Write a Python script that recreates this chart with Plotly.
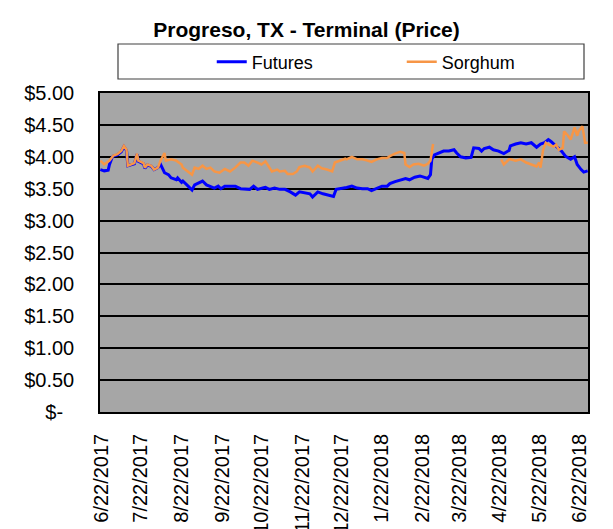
import plotly.graph_objects as go

# ---------------- data ----------------
futures_dates = [
    "2017-06-21", "2017-06-24", "2017-06-27", "2017-06-28", "2017-06-30", "2017-07-01", "2017-07-04",
    "2017-07-07", "2017-07-09", "2017-07-11", "2017-07-12", "2017-07-14", "2017-07-17", "2017-07-19",
    "2017-07-20", "2017-07-24", "2017-07-25", "2017-07-27", "2017-07-30", "2017-08-01", "2017-08-04",
    "2017-08-06", "2017-08-09", "2017-08-12", "2017-08-14", "2017-08-18", "2017-08-19", "2017-08-22",
    "2017-08-23", "2017-08-27", "2017-08-30", "2017-09-01", "2017-09-04", "2017-09-07", "2017-09-10",
    "2017-09-13", "2017-09-16", "2017-09-19", "2017-09-21", "2017-09-24", "2017-09-28", "2017-10-02",
    "2017-10-06", "2017-10-09", "2017-10-13", "2017-10-16", "2017-10-19", "2017-10-23", "2017-10-25",
    "2017-10-28", "2017-11-01", "2017-11-05", "2017-11-09", "2017-11-13", "2017-11-17", "2017-11-20",
    "2017-11-24", "2017-11-28", "2017-11-30", "2017-12-04", "2017-12-08", "2017-12-12", "2017-12-16",
    "2017-12-18", "2017-12-22", "2017-12-26", "2017-12-30", "2018-01-03", "2018-01-07", "2018-01-11",
    "2018-01-14", "2018-01-18", "2018-01-22", "2018-01-26", "2018-01-28", "2018-02-01", "2018-02-05",
    "2018-02-09", "2018-02-12", "2018-02-16", "2018-02-20", "2018-02-24", "2018-02-26", "2018-02-28",
    "2018-03-01", "2018-03-03", "2018-03-06", "2018-03-10", "2018-03-14", "2018-03-18", "2018-03-20",
    "2018-03-23", "2018-03-27", "2018-03-31", "2018-04-02", "2018-04-06", "2018-04-08", "2018-04-10",
    "2018-04-14", "2018-04-17", "2018-04-21", "2018-04-25", "2018-04-29", "2018-04-30", "2018-05-04",
    "2018-05-08", "2018-05-12", "2018-05-16", "2018-05-20", "2018-05-23", "2018-05-26", "2018-05-29",
    "2018-05-31", "2018-06-04", "2018-06-08", "2018-06-11", "2018-06-15", "2018-06-18", "2018-06-20",
    "2018-06-23", "2018-06-25", "2018-06-28",
]
futures_prices = [
    3.80, 3.78, 3.79, 3.88, 3.99, 4.01, 4.03,
    4.08, 4.16, 4.10, 3.86, 3.87, 3.89, 4.04,
    3.93, 3.89, 3.82, 3.87, 3.85, 3.80, 3.83,
    3.88, 3.75, 3.72, 3.67, 3.64, 3.67, 3.60,
    3.62, 3.54, 3.48, 3.56, 3.59, 3.62, 3.56,
    3.54, 3.51, 3.54, 3.50, 3.54, 3.54, 3.54,
    3.50, 3.50, 3.49, 3.54, 3.49, 3.51, 3.52,
    3.49, 3.51, 3.49, 3.49, 3.45, 3.40, 3.45,
    3.44, 3.42, 3.37, 3.45, 3.42, 3.40, 3.38,
    3.49, 3.50, 3.52, 3.54, 3.51, 3.50, 3.50,
    3.47, 3.50, 3.54, 3.54, 3.58, 3.61, 3.63,
    3.66, 3.64, 3.68, 3.70, 3.67, 3.66, 3.72,
    3.96, 4.03, 4.06, 4.09, 4.09, 4.11, 4.06,
    4.00, 3.98, 3.99, 4.14, 4.13, 4.09, 4.13,
    4.15, 4.11, 4.09, 4.05, 4.10, 4.17, 4.20,
    4.22, 4.20, 4.22, 4.15, 4.20, 4.22, 4.27,
    4.24, 4.17, 4.09, 4.01, 3.96, 4.00, 3.88,
    3.80, 3.76, 3.78,
]

sorghum_dates = [
    "2017-06-21", "2017-06-24", "2017-06-28", "2017-07-01", "2017-07-04", "2017-07-07", "2017-07-09",
    "2017-07-11", "2017-07-12", "2017-07-14", "2017-07-17", "2017-07-19", "2017-07-20", "2017-07-24",
    "2017-07-25", "2017-07-27", "2017-07-30", "2017-08-01", "2017-08-04", "2017-08-06", "2017-08-09",
    "2017-08-10", "2017-08-14", "2017-08-18", "2017-08-22", "2017-08-23", "2017-08-27", "2017-08-30",
    "2017-09-01", "2017-09-04", "2017-09-07", "2017-09-10", "2017-09-13", "2017-09-16", "2017-09-20",
    "2017-09-24", "2017-09-28", "2017-10-02", "2017-10-06", "2017-10-09", "2017-10-12", "2017-10-15",
    "2017-10-19", "2017-10-22", "2017-10-25", "2017-10-27", "2017-10-30", "2017-11-03", "2017-11-05",
    "2017-11-09", "2017-11-11", "2017-11-15", "2017-11-18", "2017-11-20", "2017-11-24", "2017-11-28",
    "2017-11-30", "2017-12-04", "2017-12-07", "2017-12-11", "2017-12-15", "2017-12-17", "2017-12-21",
    "2017-12-25", "2017-12-26", "2017-12-30", "2018-01-03", "2018-01-07", "2018-01-11", "2018-01-14",
    "2018-01-18", "2018-01-22", "2018-01-26", "2018-01-28", "2018-02-01", "2018-02-05", "2018-02-08",
    "2018-02-09", "2018-02-12", "2018-02-15", "2018-02-19", "2018-02-23", "2018-02-26", "2018-02-28",
    "2018-03-02", "2018-03-15", "2018-04-23", "2018-04-25", "2018-04-29", "2018-04-30", "2018-05-04",
    "2018-05-08", "2018-05-12", "2018-05-16", "2018-05-20", "2018-05-22", "2018-05-23", "2018-05-25",
    "2018-05-27", "2018-05-29", "2018-06-02", "2018-06-04", "2018-06-06", "2018-06-09", "2018-06-10",
    "2018-06-13", "2018-06-15", "2018-06-18", "2018-06-20", "2018-06-21", "2018-06-24", "2018-06-26",
    "2018-06-28",
]
sorghum_prices = [
    3.94, 3.88, 3.94, 4.02, 4.04, 4.09, 4.17,
    4.11, 3.86, 3.88, 3.90, 4.05, 3.94, 3.90,
    3.83, 3.88, 3.86, 3.80, 3.83, 3.94, 4.06,
    3.94, 3.96, 3.94, 3.88, 3.83, 3.77, 3.72,
    3.83, 3.81, 3.86, 3.81, 3.83, 3.77, 3.75,
    3.81, 3.77, 3.83, 3.91, 3.91, 3.86, 3.94,
    3.91, 3.88, 3.93, 3.86, 3.77, 3.80, 3.77,
    3.78, 3.73, 3.73, 3.77, 3.84, 3.86, 3.83,
    3.77, 3.86, 3.82, 3.80, 3.77, 3.91, 3.94,
    3.97, 3.96, 4.00, 3.96, 3.96, 3.94, 3.92,
    3.96, 3.98, 3.98, 4.01, 4.05, 4.08, 4.06,
    3.88, 3.84, 3.88, 3.89, 3.86, 3.89, 3.94,
    4.20, None, 3.96, 3.88, 3.96, 3.96, 3.94,
    3.96, 3.91, 3.88, 3.85, 3.91, 3.83, 4.11,
    4.22, 4.19, 4.16, 4.19, 4.11, 4.14, 4.40,
    4.33, 4.27, 4.46, 4.33, 4.40, 4.48, 4.22,
    4.22,
]

x_tick_dates = [
    "2017-06-22", "2017-07-22", "2017-08-22", "2017-09-22", "2017-10-22", "2017-11-22", "2017-12-22",
    "2018-01-22", "2018-02-22", "2018-03-22", "2018-04-22", "2018-05-22", "2018-06-22",
]
x_tick_labels = [
    "6/22/2017", "7/22/2017", "8/22/2017", "9/22/2017", "10/22/2017", "11/22/2017", "12/22/2017",
    "1/22/2018", "2/22/2018", "3/22/2018", "4/22/2018", "5/22/2018", "6/22/2018",
]
y_tick_values = [0, 0.5, 1.0, 1.5, 2.0, 2.5, 3.0, 3.5, 4.0, 4.5, 5.0]
y_tick_labels = ["$-\u00a0\u00a0", "$0.50", "$1.00", "$1.50", "$2.00", "$2.50",
                 "$3.00", "$3.50", "$4.00", "$4.50", "$5.00"]

FONT = "Arial, 'Liberation Sans', sans-serif"

fig = go.Figure()
fig.add_trace(go.Scatter(
    x=futures_dates, y=futures_prices, name="Futures", mode="lines",
    line=dict(color="#0000FF", width=3),
))
fig.add_trace(go.Scatter(
    x=sorghum_dates, y=sorghum_prices, name="Sorghum", mode="lines",
    line=dict(color="#F79646", width=2.5), connectgaps=False,
))

fig.update_layout(
    width=613, height=529,
    margin=dict(l=100, r=25, t=93, b=117, autoexpand=False),
    paper_bgcolor="white",
    plot_bgcolor="#A6A6A6",
    font=dict(family=FONT, color="black", size=20),
    title=dict(
        text="<b>Progreso, TX - Terminal (Price)</b>",
        x=0.5, xref="container", xanchor="center",
        y=1 - 30 / 529, yref="container", yanchor="middle",
        font=dict(family=FONT, size=21, color="black"),
    ),
    showlegend=True,
    legend=dict(
        orientation="h",
        x=0.229, xanchor="left",
        y=1.097, yanchor="middle",
        font=dict(family=FONT, size=18, color="black"),
        bgcolor="rgba(0,0,0,0)",
        entrywidth=145, entrywidthmode="pixels",
    ),
    shapes=[dict(
        type="rect", xref="paper", yref="paper",
        x0=18 / 488, x1=484 / 488, y0=(412 - 79) / 319, y1=(412 - 44) / 319,
        line=dict(color="#404040", width=1.2), fillcolor="white", layer="below",
    )],
)

fig.update_xaxes(
    type="date", automargin=False,
    range=["2017-06-20 18:00", "2018-06-28 06:00"],
    tickmode="array", tickvals=x_tick_dates, ticktext=x_tick_labels,
    tickangle=-90, tickfont=dict(family=FONT, size=20, color="black"),
    showgrid=False, zeroline=False,
    showline=True, linecolor="black", linewidth=1.5, mirror=True,
    ticks="", ticklabelstandoff=12,
)
fig.update_yaxes(
    range=[0, 5], automargin=False,
    tickmode="array", tickvals=y_tick_values, ticktext=y_tick_labels,
    tickfont=dict(family=FONT, size=20, color="black"),
    showgrid=True, gridcolor="black", gridwidth=1.5, zeroline=False,
    showline=True, linecolor="black", linewidth=1.5, mirror=True,
    ticks="", ticklabelstandoff=20,
)

fig.write_html(
    "out.html",
    config={"displayModeBar": False},
    post_script="document.body.style.margin='0';",
)
